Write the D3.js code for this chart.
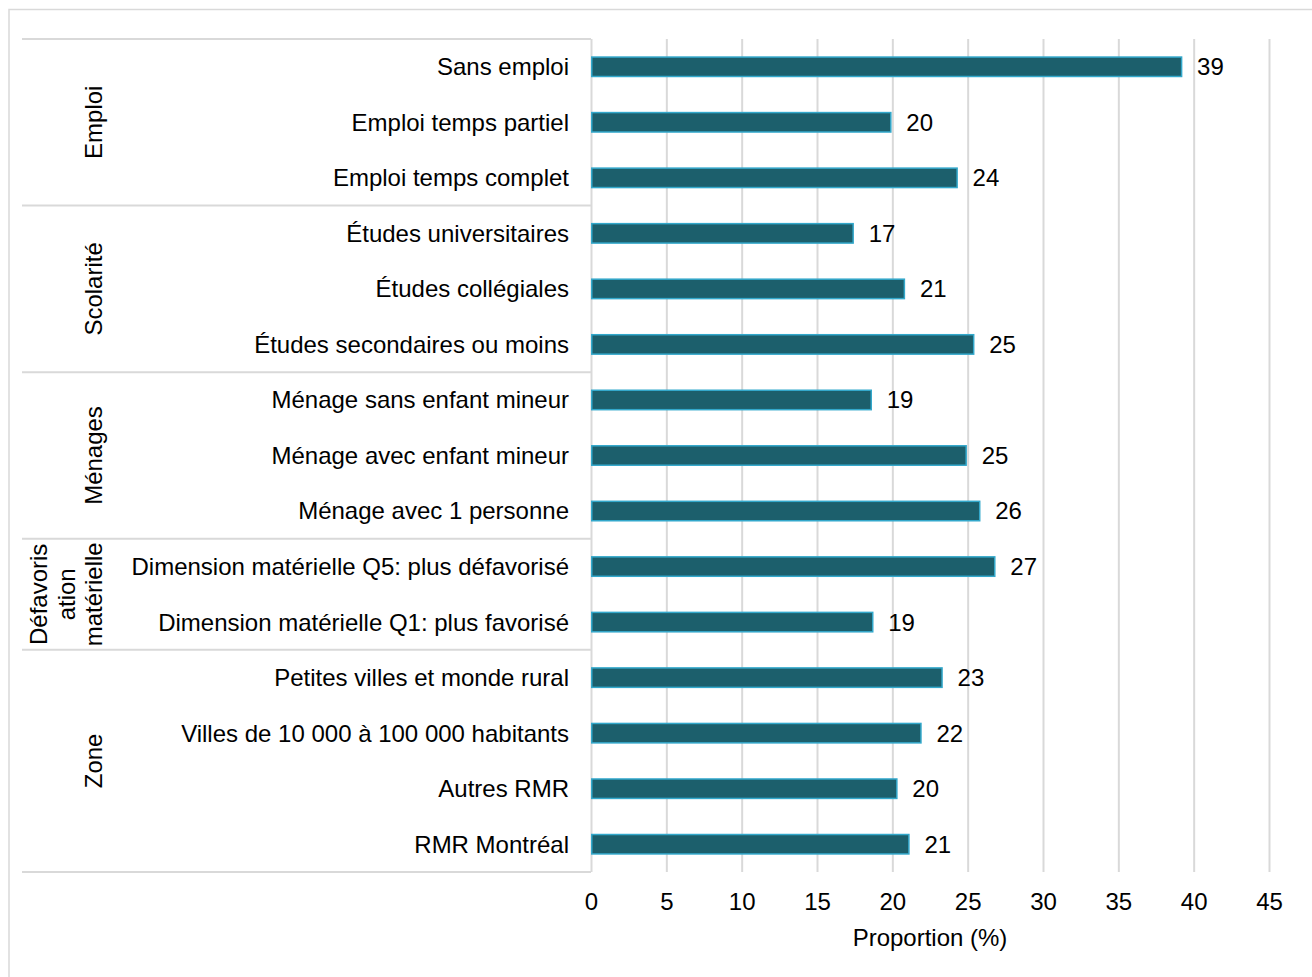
<!DOCTYPE html>
<html>
<head>
<meta charset="utf-8">
<script src="https://cdn.jsdelivr.net/npm/d3@7"></script>
<style>
  html, body { margin: 0; padding: 0; background: #fff; }
  svg { display: block; }
  text { font-family: "Liberation Sans", Arial, Helvetica, sans-serif; fill: #000; }
</style>
</head>
<body>
<svg id="chart" width="1312" height="977"></svg>
<script>
// Categories, top to bottom
const categories = [
  "Sans emploi",
  "Emploi temps partiel",
  "Emploi temps complet",
  "Études universitaires",
  "Études collégiales",
  "Études secondaires ou moins",
  "Ménage sans enfant mineur",
  "Ménage avec enfant mineur",
  "Ménage avec 1 personne",
  "Dimension matérielle Q5: plus défavorisé",
  "Dimension matérielle Q1: plus favorisé",
  "Petites villes et monde rural",
  "Villes de 10 000 à 100 000 habitants",
  "Autres RMR",
  "RMR Montréal"
];

// Proportion (%) for each category
const values = [39.2, 19.9, 24.3, 17.4, 20.8, 25.4, 18.6, 24.9, 25.8, 26.8, 18.7, 23.3, 21.9, 20.3, 21.1];

// Row groups: label lines and number of rows in each group
const groupLabels = [["Emploi"], ["Scolarité"], ["Ménages"], ["Défavoris", "ation", "matérielle"], ["Zone"]];
const groupSizes = [3, 3, 3, 2, 4];

// X axis ticks
const xTicks = [0, 5, 10, 15, 20, 25, 30, 35, 40, 45];
const xTitle = "Proportion (%)";

const svg = d3.select("#chart");
const FONT = 24;
const GRID = "#d9d9d9";

const plot = { left: 591, right: 1269, top: 39, bottom: 872 };
const tableLeft = 22;

const x = d3.scaleLinear().domain([0, 45]).range([plot.left, plot.right]);
const y = d3.scaleBand()
  .domain(categories)
  .range([plot.top, plot.bottom])
  .paddingInner(0.65)
  .paddingOuter(0.325);

// Outer frame
svg.append("rect")
  .attr("x", 9).attr("y", 9.5)
  .attr("width", 1320).attr("height", 1000)
  .attr("fill", "none").attr("stroke", GRID).attr("stroke-width", 1.5);

// Vertical gridlines
const grid = svg.append("g")
  .attr("transform", `translate(0,${plot.bottom})`)
  .call(d3.axisBottom(x).tickValues(xTicks).tickSize(-(plot.bottom - plot.top)).tickFormat(""));
grid.select(".domain").remove();
grid.selectAll("line").attr("stroke", GRID).attr("stroke-width", 2);

// Group separators in the label table
const step = y.step();
let acc = 0;
const bounds = [0];
groupSizes.forEach(n => { acc += n; bounds.push(acc); });
svg.append("g").selectAll("line")
  .data(bounds)
  .join("line")
  .attr("x1", tableLeft).attr("x2", plot.left)
  .attr("y1", d => plot.top + d * step)
  .attr("y2", d => plot.top + d * step)
  .attr("stroke", GRID).attr("stroke-width", 2);

// Group labels, rotated
const lineGap = 27.5;
groupLabels.forEach((lines, i) => {
  const cy = plot.top + (bounds[i] + bounds[i + 1]) / 2 * step;
  const cx = 94;
  const n = lines.length;
  const g = svg.append("g").attr("transform", `translate(${cx},${cy}) rotate(-90)`);
  lines.forEach((t, j) => {
    g.append("text")
      .attr("x", 0)
      .attr("y", (j - (n - 1)) * lineGap)
      .attr("dy", "0.35em")
      .attr("text-anchor", "middle")
      .attr("font-size", FONT)
      .text(t);
  });
});

// Category labels
svg.append("g").selectAll("text")
  .data(categories)
  .join("text")
  .attr("x", plot.left - 22)
  .attr("y", d => y(d) + y.bandwidth() / 2)
  .attr("dy", "0.35em")
  .attr("text-anchor", "end")
  .attr("font-size", FONT)
  .text(d => d);

// Bars
const data = categories.map((c, i) => ({ c, v: values[i] }));
svg.append("g").selectAll("rect")
  .data(data)
  .join("rect")
  .attr("x", x(0) + 0.75)
  .attr("y", d => y(d.c))
  .attr("width", d => x(d.v) - x(0) - 0.75)
  .attr("height", y.bandwidth())
  .attr("fill", "#1c5f6c")
  .attr("stroke", "#33a8cb")
  .attr("stroke-width", 1.5);

// Value labels
svg.append("g").selectAll("text")
  .data(data)
  .join("text")
  .attr("x", d => x(d.v) + 15.5)
  .attr("y", d => y(d.c) + y.bandwidth() / 2)
  .attr("dy", "0.35em")
  .attr("font-size", FONT)
  .text(d => d3.format(".0f")(d.v));

// X axis tick labels
const ax = svg.append("g")
  .attr("transform", `translate(0,${plot.bottom})`)
  .call(d3.axisBottom(x).tickValues(xTicks).tickSize(0).tickPadding(21).tickFormat(d3.format("d")));
ax.select(".domain").remove();
ax.selectAll("text")
  .attr("font-size", FONT)
  .attr("font-family", "Liberation Sans, Arial, sans-serif")
  .attr("fill", "#000");

// Axis title
svg.append("text")
  .attr("x", (plot.left + plot.right) / 2)
  .attr("y", 946)
  .attr("text-anchor", "middle")
  .attr("font-size", FONT)
  .text(xTitle);
</script>
</body>
</html>
